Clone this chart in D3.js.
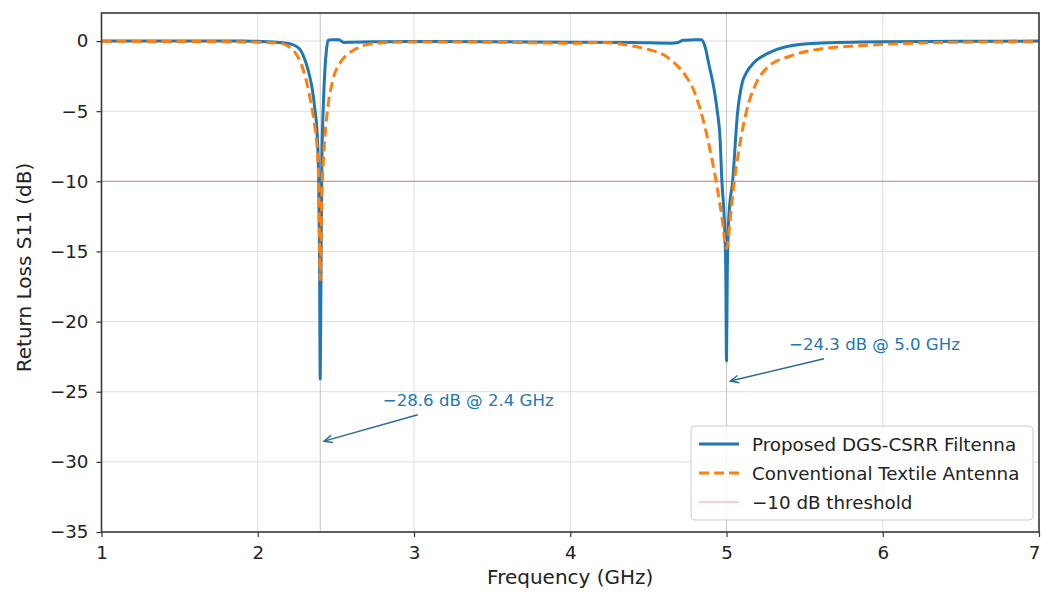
<!DOCTYPE html>
<html>
<head>
<meta charset="utf-8">
<script src="https://cdn.jsdelivr.net/npm/d3@7"></script>
<style>
  html, body { margin: 0; padding: 0; background: #ffffff; }
  svg { display: block; font-family: "DejaVu Sans", "Liberation Sans", sans-serif; }
</style>
</head>
<body>
<svg id="chart" width="1042" height="594"></svg>
<script>
// ---- Measured S11 data (GHz, dB) ----
const freqProposed = [1.0, 1.5, 1.9, 2.0, 2.1, 2.16, 2.21, 2.25, 2.27, 2.29, 2.31, 2.33, 2.35, 2.365, 2.38, 2.39, 2.395, 2.40, 2.405, 2.41, 2.42, 2.43, 2.44, 2.45, 2.47, 2.52, 2.55, 2.6, 2.8, 3.0, 3.5, 4.0, 4.4, 4.65, 4.69, 4.72, 4.78, 4.84, 4.86, 4.89, 4.92, 4.94, 4.96, 4.97, 4.985, 4.995, 5.0, 5.005, 5.015, 5.04, 5.07, 5.1, 5.13, 5.17, 5.26, 5.38, 5.58, 6.0, 6.5, 7.0];
const s11Proposed  = [0.0, 0.0, 0.0, -0.02, -0.06, -0.12, -0.2, -0.4, -0.6, -1.0, -1.6, -2.4, -3.5, -4.8, -6.6, -10.0, -15.0, -24.1, -16.0, -9.0, -4.5, -2.0, -0.6, 0.05, 0.1, 0.1, -0.1, -0.08, -0.05, -0.03, -0.05, -0.08, -0.1, -0.15, -0.1, 0.05, 0.08, 0.1, -0.3, -1.8, -3.4, -4.9, -7.2, -9.9, -12.5, -16.0, -22.8, -16.5, -12.5, -9.9, -5.2, -3.0, -2.2, -1.6, -0.9, -0.4, -0.15, -0.05, -0.02, 0.0];

const freqConventional = [1.0, 1.5, 1.8, 2.0, 2.1, 2.16, 2.2, 2.25, 2.28, 2.31, 2.33, 2.35, 2.37, 2.38, 2.39, 2.40, 2.41, 2.42, 2.43, 2.45, 2.48, 2.53, 2.58, 2.62, 2.7, 2.8, 3.0, 3.5, 4.0, 4.2, 4.4, 4.5, 4.6, 4.68, 4.74, 4.79, 4.83, 4.87, 4.91, 4.94, 4.97, 5.0, 5.03, 5.05, 5.08, 5.13, 5.19, 5.27, 5.4, 5.58, 5.9, 6.3, 6.7, 7.0];
const s11Conventional  = [-0.02, -0.03, -0.05, -0.08, -0.12, -0.2, -0.4, -1.0, -1.7, -2.8, -3.8, -5.0, -6.5, -7.6, -10.0, -17.0, -11.0, -8.5, -6.8, -4.6, -2.8, -1.5, -0.9, -0.6, -0.25, -0.12, -0.06, -0.08, -0.15, -0.1, -0.35, -0.6, -1.0, -1.7, -2.5, -3.5, -4.8, -6.5, -8.6, -10.4, -12.5, -14.8, -12.0, -10.0, -7.7, -4.9, -3.0, -1.8, -1.1, -0.6, -0.3, -0.12, -0.06, -0.05];

const thresholdDb = -10;
const bandCenters = [2.4, 5.0];

// Resonance annotations
const annoFreq = [2.4, 5.0];
const annoDb   = [-28.6, -24.3];

// Axis ticks
const xTicks = [1, 2, 3, 4, 5, 6, 7];
const yTicks = [0, -5, -10, -15, -20, -25, -30, -35];

const seriesNames = ["Proposed DGS-CSRR Filtenna", "Conventional Textile Antenna", "\u221210 dB threshold"];

// ---- Layout ----
const plot = { left: 101.5, right: 1039, top: 13, bottom: 532 };
const svg = d3.select("#chart");

const x = d3.scaleLinear().domain([1, 7]).range([plot.left, plot.right]);
const y = d3.scaleLinear().domain([-35, 2]).range([plot.bottom, plot.top]);

const fmt = d3.format("d");
const TICK_FONT = 18.3, LABEL_FONT = 20, ANNO_FONT = 16.6;

svg.append("defs").append("clipPath").attr("id", "plotClip")
  .append("rect")
  .attr("x", plot.left).attr("y", plot.top)
  .attr("width", plot.right - plot.left).attr("height", plot.bottom - plot.top);

// Grid
const grid = svg.append("g").attr("class", "grid");
grid.selectAll("line.gx").data(xTicks).join("line")
  .attr("x1", d => x(d)).attr("x2", d => x(d))
  .attr("y1", plot.top).attr("y2", plot.bottom)
  .attr("stroke", "#dddddd").attr("stroke-width", 1);
grid.selectAll("line.gy").data(yTicks).join("line")
  .attr("x1", plot.left).attr("x2", plot.right)
  .attr("y1", d => y(d)).attr("y2", d => y(d))
  .attr("stroke", "#dddddd").attr("stroke-width", 1);

const plotArea = svg.append("g").attr("clip-path", "url(#plotClip)");

// Band-centre markers
plotArea.selectAll("line.band").data(bandCenters).join("line")
  .attr("x1", d => x(d)).attr("x2", d => x(d))
  .attr("y1", plot.top).attr("y2", plot.bottom)
  .attr("stroke", "#c4c4c4").attr("stroke-width", 1);

// Threshold
plotArea.append("line")
  .attr("x1", plot.left).attr("x2", plot.right)
  .attr("y1", y(thresholdDb)).attr("y2", y(thresholdDb))
  .attr("stroke", "#d62728").attr("stroke-opacity", 0.45).attr("stroke-width", 1.2);

const line = d3.line().x(d => x(d[0])).y(d => y(d[1])).curve(d3.curveMonotoneX);

plotArea.append("path")
  .datum(d3.zip(freqProposed, s11Proposed))
  .attr("d", line).attr("fill", "none")
  .attr("stroke", "#1f77b4").attr("stroke-width", 3)
  .attr("stroke-linejoin", "round");

plotArea.append("path")
  .datum(d3.zip(freqConventional, s11Conventional))
  .attr("d", line).attr("fill", "none")
  .attr("stroke", "#ff7f0e").attr("stroke-width", 3)
  .attr("stroke-dasharray", "10,5");

// Axes
const xAxis = svg.append("g")
  .attr("transform", `translate(0,${plot.bottom})`)
  .call(d3.axisBottom(x).tickValues(xTicks).tickFormat(fmt).tickSize(5).tickPadding(9));
const yAxis = svg.append("g")
  .attr("transform", `translate(${plot.left},0)`)
  .call(d3.axisLeft(y).tickValues(yTicks).tickFormat(fmt).tickSize(5).tickPadding(8));
[xAxis, yAxis].forEach(g => {
  g.select(".domain").remove();
  g.selectAll(".tick line").attr("stroke", "#333").attr("stroke-width", 1.2);
  g.selectAll(".tick text").attr("fill", "#222").style("font-size", TICK_FONT + "px")
    .style("font-family", "DejaVu Sans");
});
// keep the last x label inside the page edge
xAxis.selectAll(".tick text").filter(d => d === xTicks[xTicks.length - 1])
  .attr("text-anchor", "end").attr("dx", "0.05em");

// Frame
svg.append("rect")
  .attr("x", plot.left).attr("y", plot.top)
  .attr("width", plot.right - plot.left).attr("height", plot.bottom - plot.top)
  .attr("fill", "none").attr("stroke", "#3a3a3a").attr("stroke-width", 1.6);

// Axis titles
svg.append("text")
  .attr("x", (plot.left + plot.right) / 2).attr("y", 584)
  .attr("text-anchor", "middle").attr("fill", "#222")
  .style("font-size", LABEL_FONT + "px")
  .text("Frequency (GHz)");
svg.append("text")
  .attr("transform", `translate(31,${(plot.top + plot.bottom) / 2 - 5}) rotate(-90)`)
  .attr("text-anchor", "middle").attr("fill", "#222")
  .style("font-size", LABEL_FONT + "px")
  .text("Return Loss S11 (dB)");

// Annotations: label placed at a data-space offset, arrow to the resonance point
const annoTextAt = [[2.8, -26], [5.4, -22]];
const annoColor = "#1f77b4", arrowColor = "#2a6b96";
const dbFmt = d3.format(".1f");
annoFreq.forEach((f, i) => {
  const tx = x(annoTextAt[i][0]), ty = y(annoTextAt[i][1]);
  svg.append("text")
    .attr("x", tx).attr("y", ty)
    .attr("fill", annoColor)
    .style("font-size", ANNO_FONT + "px")
    .text(`${dbFmt(annoDb[i])} dB @ ${f.toFixed(1)} GHz`);
  const sx = tx + 35, sy = ty + 9;
  const px = x(f), py = y(annoDb[i]);
  const dx = px - sx, dy = py - sy, len = Math.hypot(dx, dy);
  const ux = dx / len, uy = dy / len;
  const ex = px - ux * 4, ey = py - uy * 4;
  svg.append("line")
    .attr("x1", sx).attr("y1", sy).attr("x2", ex).attr("y2", ey)
    .attr("stroke", arrowColor).attr("stroke-width", 1.5);
  const ang = Math.atan2(uy, ux), hl = 9, ha = 0.42;
  const h1 = [ex - hl * Math.cos(ang - ha), ey - hl * Math.sin(ang - ha)];
  const h2 = [ex - hl * Math.cos(ang + ha), ey - hl * Math.sin(ang + ha)];
  svg.append("path")
    .attr("d", `M${h1[0]},${h1[1]}L${ex},${ey}L${h2[0]},${h2[1]}`)
    .attr("fill", "none").attr("stroke", arrowColor).attr("stroke-width", 1.5)
    .attr("stroke-linejoin", "miter");
});

// Legend
const legend = svg.append("g");
legend.append("rect")
  .attr("x", 691).attr("y", 426).attr("width", 342).attr("height", 94).attr("rx", 4)
  .attr("fill", "#ffffff").attr("fill-opacity", 0.85)
  .attr("stroke", "#cccccc").attr("stroke-width", 1);
const legendStyles = [
  { stroke: "#1f77b4", width: 3, dash: null, opacity: 1 },
  { stroke: "#ff7f0e", width: 3, dash: "10,5", opacity: 1 },
  { stroke: "#d62728", width: 1.2, dash: null, opacity: 0.45 }
];
const rowY = [444, 473, 502];
seriesNames.forEach((name, i) => {
  const st = legendStyles[i];
  legend.append("line")
    .attr("x1", 699).attr("x2", 739).attr("y1", rowY[i]).attr("y2", rowY[i])
    .attr("stroke", st.stroke).attr("stroke-width", st.width)
    .attr("stroke-opacity", st.opacity)
    .attr("stroke-dasharray", st.dash);
  legend.append("text")
    .attr("x", 752).attr("y", rowY[i]).attr("dy", "0.36em")
    .attr("fill", "#222").style("font-size", TICK_FONT + "px")
    .text(name);
});
</script>
</body>
</html>
